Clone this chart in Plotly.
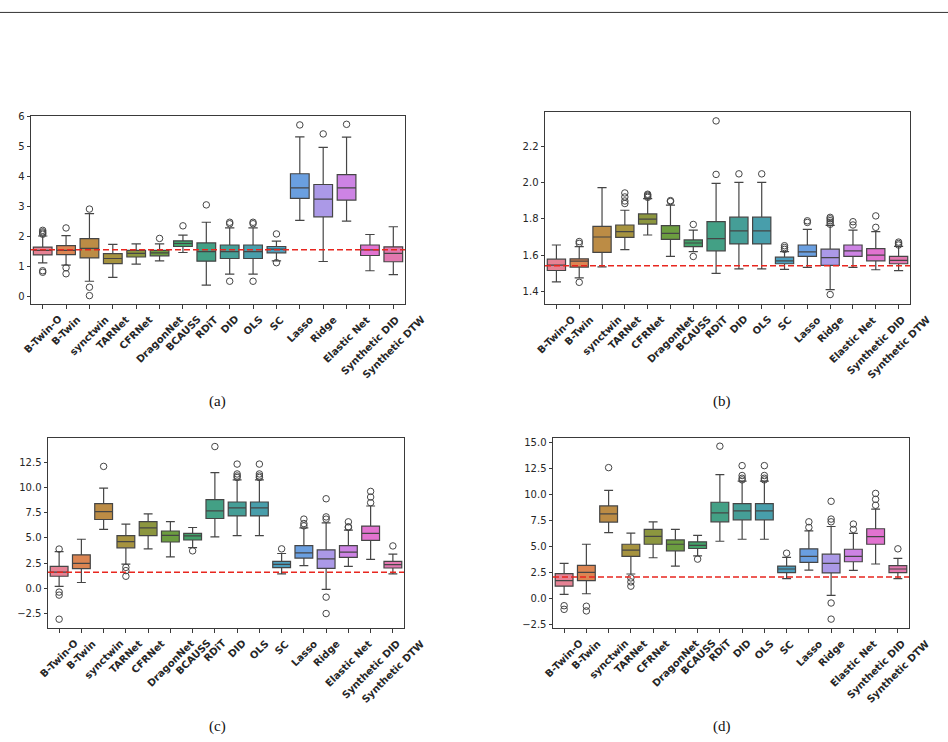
import plotly.graph_objects as go

cats = ["B-Twin-O", "B-Twin", "synctwin", "TARNet", "CFRNet", "DragonNet", "BCAUSS", "RDiT",
        "DID", "OLS", "SC", "Lasso", "Ridge", "Elastic Net", "Synthetic DID", "Synthetic DTW"]

colors = ["#e68294", "#dc8552", "#bc8c45", "#a6933f", "#8c963f", "#6c9d40", "#42a169", "#43a085",
          "#459e97", "#489eab", "#4c9ebd", "#6a9fe0", "#ab99e7", "#cd83e4", "#e273d0", "#e278b0"]

# ---- panel (a) ----
q1_a = [1.38, 1.39, 1.28, 1.09, 1.31, 1.35, 1.66, 1.17, 1.26, 1.26, 1.45, 3.27, 2.65, 3.21, 1.36, 1.15]
med_a = [1.53, 1.53, 1.60, 1.26, 1.43, 1.45, 1.76, 1.49, 1.49, 1.49, 1.57, 3.62, 3.24, 3.62, 1.55, 1.43]
q3_a = [1.64, 1.69, 1.92, 1.42, 1.53, 1.53, 1.85, 1.78, 1.71, 1.71, 1.66, 4.09, 3.73, 4.06, 1.71, 1.65]
lo_a = [1.11, 1.04, 0.50, 0.63, 1.07, 1.18, 1.46, 0.37, 0.74, 0.74, 1.18, 2.53, 1.16, 2.51, 0.85, 0.72]
hi_a = [2.01, 2.02, 2.76, 1.73, 1.75, 1.75, 2.04, 2.47, 2.28, 2.28, 1.84, 5.32, 4.97, 5.31, 2.06, 2.32]
out_a = [[2.07, 2.11, 2.15, 2.20, 0.80, 0.85], [2.28, 0.95, 0.75], [2.91, 0.30, 0.02], [], [], [1.93],
         [2.35], [3.05], [2.42, 2.47, 0.50], [2.42, 2.47, 0.50], [2.08, 1.12], [5.72], [5.42], [5.74],
         [], []]
ref_a = 1.555

# ---- panel (b) ----
q1_b = [1.516, 1.535, 1.615, 1.698, 1.771, 1.687, 1.647, 1.624, 1.662, 1.662, 1.553, 1.593, 1.544, 1.593, 1.569, 1.553]
med_b = [1.545, 1.567, 1.700, 1.729, 1.798, 1.720, 1.667, 1.691, 1.734, 1.734, 1.569, 1.618, 1.587, 1.624, 1.600, 1.571]
q3_b = [1.578, 1.580, 1.758, 1.766, 1.827, 1.762, 1.684, 1.784, 1.809, 1.809, 1.589, 1.656, 1.633, 1.656, 1.636, 1.593]
lo_b = [1.453, 1.475, 1.536, 1.631, 1.711, 1.593, 1.620, 1.500, 1.525, 1.525, 1.522, 1.533, 1.411, 1.533, 1.520, 1.515]
hi_b = [1.656, 1.647, 1.971, 1.847, 1.911, 1.875, 1.738, 1.995, 2.000, 2.000, 1.620, 1.742, 1.764, 1.738, 1.729, 1.648]
out_b = [[], [1.665, 1.675, 1.451], [], [1.884, 1.898, 1.920, 1.942], [1.918, 1.924, 1.930, 1.935],
         [1.895, 1.900], [1.769, 1.593], [2.044, 2.338], [2.047], [2.047], [1.632, 1.642, 1.652],
         [1.780, 1.789], [1.770, 1.780, 1.790, 1.800, 1.808, 1.384], [1.766, 1.784], [1.753, 1.816],
         [1.656, 1.664, 1.672]]
ref_b = 1.542

# ---- panel (c) ----
q1_c = [1.20, 1.95, 6.83, 4.02, 5.23, 4.60, 4.80, 6.93, 7.19, 7.19, 2.05, 3.00, 1.98, 3.07, 4.77, 2.02]
med_c = [1.62, 2.48, 7.62, 4.64, 6.01, 5.26, 5.20, 7.68, 7.98, 7.98, 2.38, 3.53, 2.93, 3.59, 5.45, 2.35]
q3_c = [2.18, 3.33, 8.40, 5.23, 6.63, 5.69, 5.45, 8.80, 8.57, 8.57, 2.67, 4.24, 3.82, 4.24, 6.18, 2.67]
lo_c = [0.19, 0.58, 5.85, 2.41, 3.92, 3.13, 4.05, 5.10, 5.23, 5.23, 1.43, 2.25, -0.11, 2.18, 2.87, 1.43]
hi_c = [3.65, 4.87, 9.94, 6.38, 7.39, 6.63, 6.04, 11.48, 10.76, 10.76, 3.46, 6.01, 6.50, 5.78, 8.17, 3.39]
out_c = [[3.90, -0.37, -0.67, -3.06], [], [12.10], [2.08, 1.76, 1.20], [], [], [3.72], [14.07],
         [11.00, 11.15, 11.35, 12.33], [11.00, 11.15, 11.35, 12.33], [3.92], [6.20, 6.43, 6.87],
         [6.87, 7.09, 8.89, -0.87, -2.50], [6.05, 6.11, 6.60], [8.50, 9.06, 9.62], [4.21]]
ref_c = 1.60

# ---- panel (d) ----
q1_d = [1.18, 1.72, 7.34, 4.04, 5.21, 4.58, 4.80, 7.37, 7.56, 7.56, 2.49, 3.47, 2.45, 3.53, 5.21, 2.49]
med_d = [1.72, 2.51, 8.13, 4.64, 5.97, 5.21, 5.11, 8.23, 8.42, 8.42, 2.83, 4.04, 3.37, 4.04, 5.94, 2.83]
q3_d = [2.39, 3.18, 8.90, 5.21, 6.64, 5.63, 5.44, 9.25, 9.11, 9.11, 3.11, 4.77, 4.26, 4.73, 6.70, 3.15]
lo_d = [0.39, 0.45, 6.32, 2.35, 3.91, 3.11, 4.10, 5.50, 5.69, 5.69, 1.91, 2.73, 0.30, 2.70, 3.31, 1.91]
hi_d = [3.37, 5.21, 10.39, 6.29, 7.37, 6.64, 6.07, 11.91, 11.28, 11.28, 3.94, 6.49, 6.92, 6.26, 8.58, 3.85]
out_d = [[-0.70, -1.05], [-0.75, -1.20], [12.58], [1.97, 1.59, 1.18], [], [], [3.78], [14.64],
         [11.40, 11.56, 11.82, 12.77], [11.40, 11.56, 11.82, 12.77], [4.35], [6.83, 7.37],
         [7.37, 7.63, 9.34, -0.44, -1.99], [6.64, 7.15], [8.96, 9.53, 10.10], [4.77]]
ref_d = 2.05

panels = [
    dict(q1=q1_a, med=med_a, q3=q3_a, lo=lo_a, hi=hi_a, out=out_a, ref=ref_a,
         yrange=[-0.265, 6.02], tickvals=[0, 1, 2, 3, 4, 5, 6], fmt="d",
         xdom=[31 / 948, 405 / 948], ydom=[1 - 302 / 742, 1 - 112 / 742], cap="(a)", capxy=(217, 400)),
    dict(q1=q1_b, med=med_b, q3=q3_b, lo=lo_b, hi=hi_b, out=out_b, ref=ref_b,
         yrange=[1.331, 2.387], tickvals=[1.4, 1.6, 1.8, 2.0, 2.2], fmt=".1f",
         xdom=[545 / 948, 910 / 948], ydom=[1 - 302 / 742, 1 - 108 / 742], cap="(b)", capxy=(722, 400)),
    dict(q1=q1_c, med=med_c, q3=q3_c, lo=lo_c, hi=hi_c, out=out_c, ref=ref_c,
         yrange=[-3.94, 14.93], tickvals=[-2.5, 0, 2.5, 5, 7.5, 10, 12.5], fmt=".1f",
         xdom=[48 / 948, 404 / 948], ydom=[1 - 629 / 742, 1 - 437 / 742], cap="(c)", capxy=(217, 728)),
    dict(q1=q1_d, med=med_d, q3=q3_d, lo=lo_d, hi=hi_d, out=out_d, ref=ref_d,
         yrange=[-2.85, 15.44], tickvals=[-2.5, 0, 2.5, 5, 7.5, 10, 12.5, 15], fmt=".1f",
         xdom=[553 / 948, 909 / 948], ydom=[1 - 629 / 742, 1 - 437 / 742], cap="(d)", capxy=(722, 728)),
]

LINE = "#454545"
AX = "#3a3a3a"
TXT = "#262626"

fig = go.Figure()
annotations = []
shapes = []
layout = {}

for i, p in enumerate(panels, start=1):
    xa = "x" if i == 1 else f"x{i}"
    ya = "y" if i == 1 else f"y{i}"
    for j, c in enumerate(cats):
        fig.add_trace(go.Box(
            x=[c], q1=[p["q1"][j]], median=[p["med"][j]], q3=[p["q3"][j]],
            lowerfence=[p["lo"][j]], upperfence=[p["hi"][j]],
            fillcolor=colors[j], line=dict(color=LINE, width=1.2),
            width=0.8, whiskerwidth=0.5, boxpoints=False, showlegend=False,
            hoverinfo="skip", xaxis=xa, yaxis=ya))
        if p["out"][j]:
            fig.add_trace(go.Scatter(
                x=[c] * len(p["out"][j]), y=p["out"][j], mode="markers",
                marker=dict(symbol="circle-open", size=6.5, color=LINE, line=dict(width=1, color=LINE)),
                showlegend=False, hoverinfo="skip", xaxis=xa, yaxis=ya))
    shapes.append(dict(type="line", xref=f"{xa} domain", x0=0, x1=1, yref=ya,
                       y0=p["ref"], y1=p["ref"], line=dict(color="#e8261f", width=1.5, dash="6px,3px"),
                       layer="above"))
    kx = "xaxis" if i == 1 else f"xaxis{i}"
    ky = "yaxis" if i == 1 else f"yaxis{i}"
    layout[kx] = dict(domain=p["xdom"], anchor=ya, type="category", categoryorder="array",
                      categoryarray=cats, range=[-0.5, 15.5], showline=True, mirror=True,
                      linecolor=AX, linewidth=1, ticks="outside", ticklen=3.5, tickcolor=AX,
                      showticklabels=False, showgrid=False, zeroline=False, fixedrange=True)
    layout[ky] = dict(domain=p["ydom"], anchor=xa, range=p["yrange"], tickvals=p["tickvals"],
                      tickformat=p["fmt"], showline=True, mirror=True, linecolor=AX, linewidth=1,
                      ticks="outside", ticklen=3.5, tickcolor=AX, showgrid=False, zeroline=False,
                      tickfont=dict(family="DejaVu Sans", size=10, color=TXT), fixedrange=True)
    for c in cats:
        annotations.append(dict(text=c, xref=xa, yref=f"{ya} domain", x=c, y=0, yshift=-7,
                                xanchor="center", yanchor="top", textangle=-45, showarrow=False,
                                font=dict(family="DejaVu Sans", size=10, color=TXT, weight="bold")))
    cx, cy = p["capxy"]
    annotations.append(dict(text=p["cap"], xref="paper", yref="paper", x=cx / 948, y=1 - cy / 742,
                            xanchor="center", yanchor="middle", showarrow=False,
                            font=dict(family="Liberation Serif", size=15, color="#111111")))

shapes.append(dict(type="line", xref="paper", yref="paper", x0=0, x1=1, y0=1 - 7.5 / 742,
                   y1=1 - 7.5 / 742, line=dict(color="#333333", width=1)))

fig.update_layout(width=948, height=742, margin=dict(l=0, r=0, t=0, b=0),
                  paper_bgcolor="white", plot_bgcolor="white", boxmode="overlay",
                  annotations=annotations, shapes=shapes, **layout)

fig.write_html("out.html")
